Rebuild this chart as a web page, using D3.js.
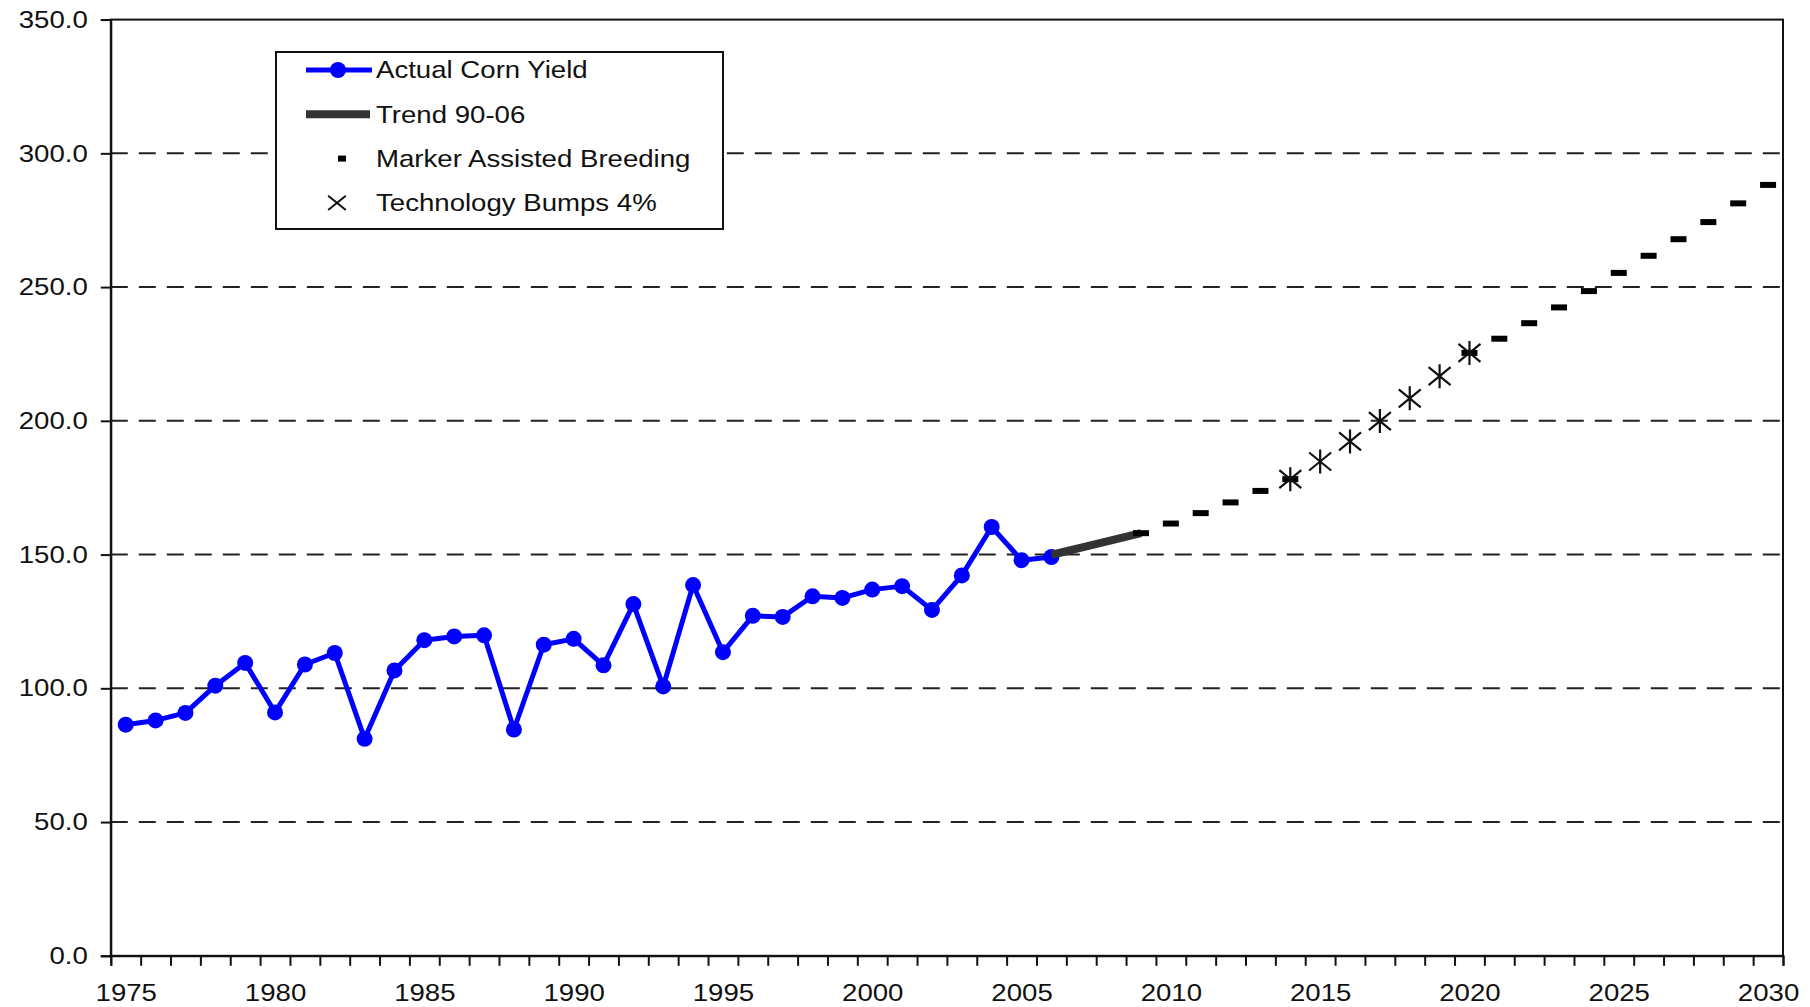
<!DOCTYPE html>
<html lang="en">
<head>
    <meta charset="UTF-8">
    <title>Corn yield projection</title>
    <style>
        html, body { margin: 0; padding: 0; background: #fff; overflow: hidden; }
        text { font-family: Arial, 'Liberation Sans', sans-serif; fill: #111; }
    </style>
</head>
<body>
    <script src="https://cdn.jsdelivr.net/npm/d3@7/dist/d3.min.js"></script>
    <script>
        // categories
        const firstYear = 1975
        const lastYear = 2030
        const labelYears = [1975, 1980, 1985, 1990, 1995, 2000, 2005, 2010, 2015, 2020, 2025, 2030]
        const yTicks = [0, 50, 100, 150, 200, 250, 300, 350]

        // actual corn yield 1975-2006
        const actualYears = d3.range(1975, 2007)
        const actualYield = [86.4, 88.0, 90.8, 101.0, 109.5, 91.0, 108.9, 113.2, 81.1, 106.7,
            118.0, 119.4, 119.8, 84.6, 116.3, 118.5, 108.6, 131.5, 100.7, 138.6,
            113.5, 127.1, 126.7, 134.4, 133.8, 136.9, 138.2, 129.3, 142.2, 160.3,
            147.9, 149.1]

        // trend 90-06
        const trendYears = [2006, 2007, 2008, 2009]
        const trendYield = [149.9, 152.6, 155.3, 158.0]

        // marker assisted breeding
        const mabYears = [2009, 2010, 2011, 2012, 2013, 2014, 2020, 2021, 2022, 2023, 2024, 2025, 2026, 2027, 2028, 2029, 2030]
        const mabYield = [158.0, 161.6, 165.5, 169.5, 173.8, 178.2, 225.4, 230.7, 236.5, 242.4, 248.5, 255.3, 261.7, 267.9, 274.3, 281.3, 288.2]

        // technology bumps 4%
        const bumpYears = [2014, 2015, 2016, 2017, 2018, 2019, 2020]
        const bumpYield = [178.2, 184.8, 192.3, 199.9, 208.4, 216.7, 225.4]

        const width = 1810
        const height = 1007
        const margin = { top: 19.6, left: 110.8, right: 27, bottom: 51.2 }
        const w = width - margin.left - margin.right
        const h = height - margin.top - margin.bottom
        const sx = 1.15 // the source text is a bit stretched sideways

        const svg = d3.select('body').append('svg')
            .attr('width', width)
            .attr('height', height)

        const x = d3.scaleLinear()
            .domain([firstYear - 0.5, lastYear + 0.5])
            .range([0, w])

        const y = d3.scaleLinear()
            .domain([0, 350])
            .range([h, 0])

        const g = svg.append('g')
            .attr('transform', `translate(${margin.left}, ${margin.top})`)

        // dashed gridlines
        g.selectAll('.grid')
            .data(yTicks.filter(d => d > 0 && d < 350))
            .enter().append('line')
            .attr('class', 'grid')
            .attr('x1', 0).attr('x2', w)
            .attr('y1', d => y(d)).attr('y2', d => y(d))
            .attr('stroke', '#222')
            .attr('stroke-width', 2)
            .attr('stroke-dasharray', '17, 11')

        // frame
        g.append('rect')
            .attr('x', 0).attr('y', 0)
            .attr('width', w).attr('height', h)
            .attr('fill', 'none')
            .attr('stroke', '#111')
            .attr('stroke-width', 2)

        // y axis
        const yAxis = g.append('g')
            .call(d3.axisLeft(y).tickValues(yTicks).tickFormat(d3.format('.1f')).tickSize(10).tickPadding(10))
        yAxis.select('.domain').attr('stroke', '#111').attr('stroke-width', 2)
        yAxis.selectAll('.tick line').attr('stroke', '#111').attr('stroke-width', 2)
        yAxis.selectAll('.tick text')
            .attr('font-size', 24)
            .attr('font-family', 'Arial, Liberation Sans, sans-serif')
            .attr('fill', '#111')
            .attr('transform', `scale(${sx}, 1)`)

        // x axis: tick marks on category borders, labels in the middle
        const borders = d3.range(firstYear - 0.5, lastYear + 1, 1)
        const xTicks = g.append('g')
            .attr('transform', `translate(0, ${h})`)
            .call(d3.axisBottom(x).tickValues(borders).tickFormat('').tickSize(10))
        xTicks.select('.domain').attr('stroke', '#111').attr('stroke-width', 2)
        xTicks.selectAll('.tick line').attr('stroke', '#111').attr('stroke-width', 2)

        const xLabels = g.append('g')
            .attr('transform', `translate(0, ${h})`)
            .call(d3.axisBottom(x).tickValues(labelYears).tickFormat(d3.format('d')).tickSize(0).tickPadding(28))
        xLabels.select('.domain').remove()
        xLabels.selectAll('.tick text')
            .attr('font-size', 24)
            .attr('font-family', 'Arial, Liberation Sans, sans-serif')
            .attr('fill', '#111')
            .attr('transform', `scale(${sx}, 1)`)

        // actual yield
        const actual = actualYears.map((yr, i) => ({ yr, v: actualYield[i] }))
        const line = d3.line().x(d => x(d.yr)).y(d => y(d.v))

        g.append('path')
            .datum(actual)
            .attr('fill', 'none')
            .attr('stroke', '#0000ff')
            .attr('stroke-width', 5)
            .attr('stroke-linejoin', 'round')
            .attr('d', line)

        g.selectAll('.dot')
            .data(actual)
            .enter().append('circle')
            .attr('class', 'dot')
            .attr('cx', d => x(d.yr))
            .attr('cy', d => y(d.v))
            .attr('r', 8)
            .attr('fill', '#0000ff')

        // trend
        const trend = trendYears.map((yr, i) => ({ yr, v: trendYield[i] }))
        g.append('path')
            .datum(trend)
            .attr('fill', 'none')
            .attr('stroke', '#333')
            .attr('stroke-width', 8)
            .attr('d', d3.line().curve(d3.curveMonotoneX).x(d => x(d.yr)).y(d => y(d.v)))

        // marker assisted breeding dashes
        const mab = mabYears.map((yr, i) => ({ yr, v: mabYield[i] }))
        g.selectAll('.mab')
            .data(mab)
            .enter().append('rect')
            .attr('class', 'mab')
            .attr('x', d => x(d.yr) - 8)
            .attr('y', d => y(d.v) - 3)
            .attr('width', 16)
            .attr('height', 6)
            .attr('fill', '#000')

        // technology bumps stars
        const star = 'M-11,-9L11,9M-11,9L11,-9M0,-12L0,12'
        const bumps = bumpYears.map((yr, i) => ({ yr, v: bumpYield[i] }))
        g.selectAll('.bump')
            .data(bumps)
            .enter().append('path')
            .attr('class', 'bump')
            .attr('transform', d => `translate(${x(d.yr)}, ${y(d.v)})`)
            .attr('d', star)
            .attr('fill', 'none')
            .attr('stroke', '#111')
            .attr('stroke-width', 2.2)

        // legend
        const legend = svg.append('g').attr('transform', 'translate(276, 52)')
        legend.append('rect')
            .attr('width', 447).attr('height', 177)
            .attr('fill', '#fff')
            .attr('stroke', '#111')
            .attr('stroke-width', 2)

        const rows = [
            { label: 'Actual Corn Yield', type: 'actual' },
            { label: 'Trend 90-06', type: 'trend' },
            { label: 'Marker Assisted Breeding', type: 'mab' },
            { label: 'Technology Bumps 4%', type: 'bump' }
        ]

        const item = legend.selectAll('.item')
            .data(rows)
            .enter().append('g')
            .attr('class', 'item')
            .attr('transform', (d, i) => `translate(0, ${18 + i * 44.3})`)

        item.filter(d => d.type === 'actual').each(function () {
            const s = d3.select(this)
            s.append('line').attr('x1', 30).attr('x2', 96).attr('stroke', '#0000ff').attr('stroke-width', 5)
            s.append('circle').attr('cx', 62).attr('r', 8).attr('fill', '#0000ff')
        })
        item.filter(d => d.type === 'trend')
            .append('line').attr('x1', 30).attr('x2', 94).attr('stroke', '#333').attr('stroke-width', 8)
        item.filter(d => d.type === 'mab')
            .append('rect').attr('x', 62).attr('y', -3).attr('width', 8).attr('height', 6).attr('fill', '#000')
        item.filter(d => d.type === 'bump')
            .append('path').attr('transform', 'translate(61, 0) scale(0.8)').attr('d', 'M-11,-9L11,9M-11,9L11,-9')
            .attr('stroke', '#111').attr('stroke-width', 2.5)

        item.append('text')
            .attr('transform', `translate(100, 0) scale(${sx}, 1)`)
            .attr('dy', '0.35em')
            .attr('font-size', 24)
            .text(d => d.label)
    </script>
</body>
</html>
